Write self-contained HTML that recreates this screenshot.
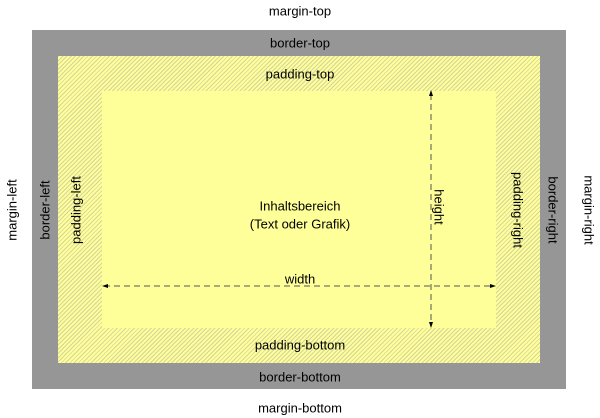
<!DOCTYPE html>
<html><head><meta charset="utf-8"><style>
body{margin:0;width:600px;height:418px;background:#fff;position:relative;overflow:hidden;font-family:"Liberation Sans",Arial,sans-serif;font-size:13px;color:#000}
.a{position:absolute}
.t{position:absolute;white-space:nowrap;transform:translate(-50%,-50%);line-height:1}
.l{transform:translate(-50%,-50%) rotate(-90deg)}
.r{transform:translate(-50%,-50%) rotate(90deg)}
</style></head><body>
<div class="a" style="left:32px;top:30px;width:534px;height:359px;background:#969696"></div>
<div class="a" style="left:58px;top:56px;width:482px;height:307px;background:repeating-linear-gradient(-45deg,#ffff99 0 2px,#d4d49c 2px 3px)"></div>
<div class="a" style="left:102px;top:91px;width:394px;height:237px;background:#ffff99"></div>
<svg class="a" style="left:0;top:0" width="600" height="418">
<line x1="104" y1="286" x2="492" y2="286" stroke="#555" stroke-dasharray="6,4"/>
<polygon points="102,286 108,284 108,288" fill="#000"/>
<polygon points="496,286 490,284 490,288" fill="#000"/>
<line x1="431" y1="94" x2="431" y2="324" stroke="#555" stroke-dasharray="6,4"/>
<polygon points="431,90 429,96 433,96" fill="#000"/>
<polygon points="431,328 429,322 433,322" fill="#000"/>
</svg>
<div class="t" style="left:300px;top:11px">margin-top</div>
<div class="t" style="left:300px;top:43px">border-top</div>
<div class="t" style="left:300px;top:74px">padding-top</div>
<div class="t" style="left:300px;top:206px">Inhaltsbereich</div>
<div class="t" style="left:300px;top:224px">(Text oder Grafik)</div>
<div class="t" style="left:300px;top:279px">width</div>
<div class="t" style="left:300px;top:345px">padding-bottom</div>
<div class="t" style="left:300px;top:377px">border-bottom</div>
<div class="t" style="left:300px;top:408px">margin-bottom</div>
<div class="t l" style="left:12px;top:210px">margin-left</div>
<div class="t l" style="left:45px;top:210px">border-left</div>
<div class="t l" style="left:76px;top:210px">padding-left</div>
<div class="t r" style="left:518px;top:210px">padding-right</div>
<div class="t r" style="left:553px;top:210px">border-right</div>
<div class="t r" style="left:589px;top:210px">margin-right</div>
<div class="t r" style="left:439px;top:207px">height</div>
</body></html>
